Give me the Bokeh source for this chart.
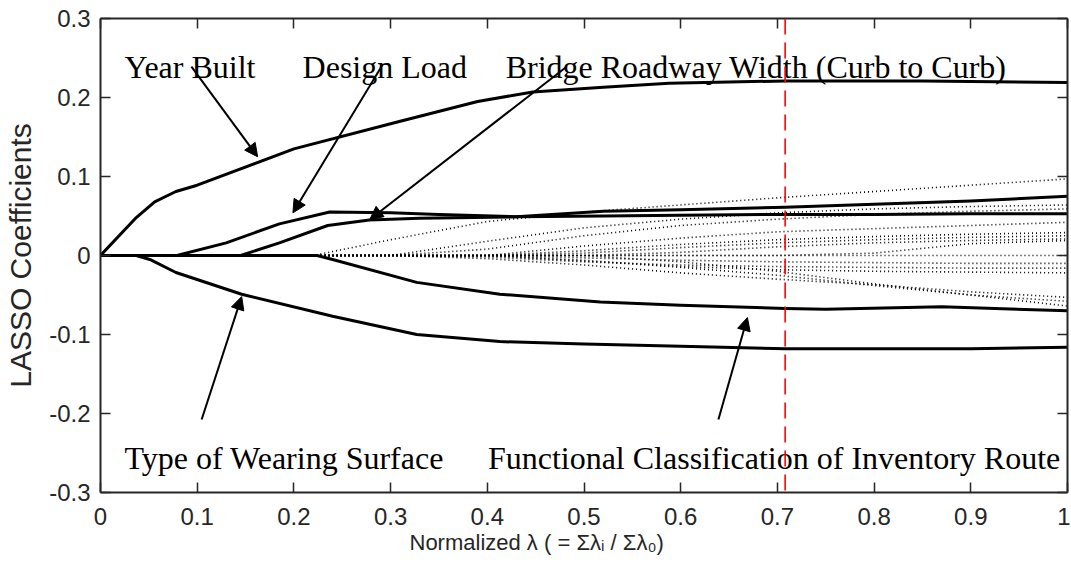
import numpy as np
from bokeh.plotting import figure
from bokeh.models import (LinearAxis, FixedTicker, Span, Arrow, NormalHead,
                          CustomJSTickFormatter, Range1d, Title)
from bokeh.core.properties import value
from bokeh.embed import file_html
from bokeh.resources import INLINE

# ---------------- data ----------------
x_ticks = [0, 0.1, 0.2, 0.3, 0.4, 0.5, 0.6, 0.7, 0.8, 0.9, 1]
x_tick_labels = ["0", "0.1", "0.2", "0.3", "0.4", "0.5", "0.6", "0.7", "0.8", "0.9", "1"]
y_ticks = [-0.3, -0.2, -0.1, 0, 0.1, 0.2, 0.3]
y_tick_labels = ["-0.3", "-0.2", "-0.1", "0", "0.1", "0.2", "0.3"]

x_title = "Normalized λ ( = Σλᵢ / Σλ₀)"
y_title = "LASSO Coefficients"

# bold (labelled) coefficient paths
year_built_x = [0, 0.037, 0.056, 0.078, 0.1, 0.2, 0.31, 0.39, 0.447, 0.52, 0.588, 0.708, 0.85, 1.0]
year_built_y = [0, 0.048, 0.068, 0.081, 0.089, 0.135, 0.170, 0.195, 0.207, 0.213, 0.218, 0.221, 0.221, 0.219]

design_load_x = [0, 0.079, 0.13, 0.185, 0.237, 0.3, 0.35, 0.43, 0.52, 0.6, 0.708, 0.8, 0.9, 1.0]
design_load_y = [0, 0, 0.016, 0.040, 0.055, 0.054, 0.052, 0.049, 0.050, 0.051, 0.052, 0.052, 0.053, 0.053]

roadway_width_x = [0, 0.145, 0.185, 0.235, 0.278, 0.33, 0.43, 0.52, 0.6, 0.708, 0.8, 0.9, 1.0]
roadway_width_y = [0, 0, 0.016, 0.038, 0.045, 0.047, 0.049, 0.056, 0.058, 0.061, 0.065, 0.069, 0.075]

wearing_surface_x = [0, 0.037, 0.051, 0.078, 0.146, 0.24, 0.327, 0.413, 0.5, 0.6, 0.708, 0.8, 0.9, 1.0]
wearing_surface_y = [0, 0, -0.005, -0.0215, -0.049, -0.077, -0.100, -0.109, -0.112, -0.115, -0.118, -0.118, -0.118, -0.116]

functional_class_x = [0, 0.224, 0.24, 0.327, 0.413, 0.517, 0.6, 0.708, 0.75, 0.87, 1.0]
functional_class_y = [0, 0, -0.005, -0.034, -0.049, -0.059, -0.063, -0.067, -0.068, -0.065, -0.070]

# thin dotted paths (other predictors)
other_x = [0, 0.22, 0.3, 0.4, 0.5, 0.6, 0.7, 0.8, 0.9, 1.0]
other_1 = [0, 0, 0.020, 0.043, 0.055, 0.064, 0.073, 0.081, 0.089, 0.097]
other_2 = [0, 0, 0, 0.018, 0.035, 0.046, 0.054, 0.059, 0.062, 0.064]
other_3 = [0, 0, 0, 0.008, 0.025, 0.038, 0.046, 0.052, 0.056, 0.059]
other_4 = [0, 0, 0, 0, 0.012, 0.022, 0.030, 0.034, 0.038, 0.042]
other_5 = [0, 0, 0, 0, 0.006, 0.014, 0.020, 0.024, 0.027, 0.029]
other_6 = [0, 0, 0, 0, 0.003, 0.010, 0.016, 0.020, 0.023, 0.025]
other_7 = [0, 0, 0, 0, 0, 0.004, 0.011, 0.016, 0.019, 0.021]
other_8 = [0, 0, 0, 0, 0, 0, 0, 0.003, 0.015, 0.019]
other_9 = [0, 0, 0, 0, 0, 0, 0, 0, 0, 0]
other_10 = [0, 0, 0, 0, -0.003, -0.006, -0.008, -0.009, -0.010, -0.010]
other_11 = [0, 0, 0, -0.002, -0.008, -0.012, -0.014, -0.015, -0.016, -0.016]
other_12 = [0, 0, 0, 0, -0.007, -0.014, -0.018, -0.020, -0.021, -0.022]
other_13 = [0, 0, 0, -0.004, -0.012, -0.022, -0.030, -0.037, -0.046, -0.053]
other_14 = [0, 0, 0, 0, -0.006, -0.015, -0.025, -0.038, -0.050, -0.058]
other_15 = [0, 0, 0, 0, 0, -0.008, -0.020, -0.036, -0.050, -0.064]
others = [other_1, other_2, other_3, other_4, other_5, other_6, other_7, other_8,
          other_9, other_10, other_11, other_12, other_13, other_14, other_15]

selected_lambda = 0.708

# annotations: text, text anchor (x, y), arrow start, arrow tip
label_texts = ["Year Built", "Design Load", "Bridge Roadway Width (Curb to Curb)",
               "Type of Wearing Surface", "Functional Classification of Inventory Route"]
label_x = [0.0248, 0.209, 0.419, 0.0248, 0.4006]
label_y = [0.2392, 0.2392, 0.2392, -0.2557, -0.2557]
arrow_x0 = [0.094, 0.292, 0.482, 0.1046, 0.639]
arrow_y0 = [0.239, 0.242, 0.239, -0.2076, -0.2076]
arrow_x1 = [0.1625, 0.199, 0.2785, 0.146, 0.669]
arrow_y1 = [0.125, 0.054, 0.0456, -0.052, -0.0785]

# ---------------- figure ----------------
p = figure(width=1070, height=567, output_backend="svg", toolbar_location=None,
           x_range=Range1d(0, 1), y_range=Range1d(-0.3, 0.3),
           min_border_left=100, min_border_right=3, min_border_top=18, min_border_bottom=75)
p.outline_line_color = None
p.grid.visible = False
p.background_fill_color = "white"

tick_font = "24px"
for ax, ticks, labs in ((p.xaxis[0], x_ticks, x_tick_labels), (p.yaxis[0], y_ticks, y_tick_labels)):
    ax.ticker = FixedTicker(ticks=ticks)
    ax.major_label_overrides = dict(zip(ticks, labs))
    ax.major_tick_in = 10
    ax.major_tick_out = 0
    ax.minor_tick_line_color = None
    ax.axis_line_width = 2
    ax.axis_line_color = "#262626"
    ax.major_tick_line_width = 1.5
    ax.major_tick_line_color = "#262626"
    ax.major_label_text_font = "Liberation Sans"
    ax.major_label_text_font_size = tick_font
    ax.major_label_text_color = "#262626"
    ax.axis_label_text_font = "Liberation Sans"
    ax.axis_label_text_font_style = "normal"
    ax.axis_label_text_color = "#262626"

p.xaxis[0].major_label_standoff = 15
p.yaxis[0].major_label_standoff = 10
p.yaxis[0].axis_label = y_title
p.yaxis[0].axis_label_text_font_size = "30px"
p.yaxis[0].axis_label_standoff = 9

blank = CustomJSTickFormatter(code="return ''")
for loc, ticks in (("above", x_ticks), ("right", y_ticks)):
    extra = LinearAxis(ticker=FixedTicker(ticks=ticks), formatter=blank,
                       major_tick_in=10, major_tick_out=0, minor_tick_line_color=None,
                       axis_line_width=2, axis_line_color="#262626",
                       major_tick_line_width=1.5, major_tick_line_color="#262626",
                       major_label_standoff=0)
    p.add_layout(extra, loc)

# x-axis title (placed left of centre as in the original)
p.add_layout(Title(text=x_title, align="left", offset=309, text_font="Liberation Sans",
                   text_font_size="22px", text_font_style="normal", text_color="#262626",
                   standoff=0), "below")

# thin dotted paths
for ys in others:
    p.line(other_x, ys, line_color="black", line_width=1.6, line_dash="1 3")

# bold paths
for xs, ys in ((year_built_x, year_built_y), (design_load_x, design_load_y),
               (roadway_width_x, roadway_width_y), (wearing_surface_x, wearing_surface_y),
               (functional_class_x, functional_class_y)):
    p.line(xs, ys, line_color="black", line_width=3, line_join="round")

# selected lambda
p.add_layout(Span(location=selected_lambda, dimension="height", line_color="#ff0000",
                  line_width=1.6, line_dash="16 8"))

# labels
p.text(x=label_x, y=label_y, text=label_texts, text_font=value("Liberation Serif"),
       text_font_size="32px", text_color="black", text_align="left",
       text_baseline="alphabetic")

# arrows
for xs0, ys0, xs1, ys1 in zip(arrow_x0, arrow_y0, arrow_x1, arrow_y1):
    p.add_layout(Arrow(end=NormalHead(size=13, fill_color="black", line_color="black", line_width=1),
                       x_start=xs0, y_start=ys0, x_end=xs1, y_end=ys1,
                       line_color="black", line_width=2))

open("out.html", "w").write(file_html(p, INLINE))
